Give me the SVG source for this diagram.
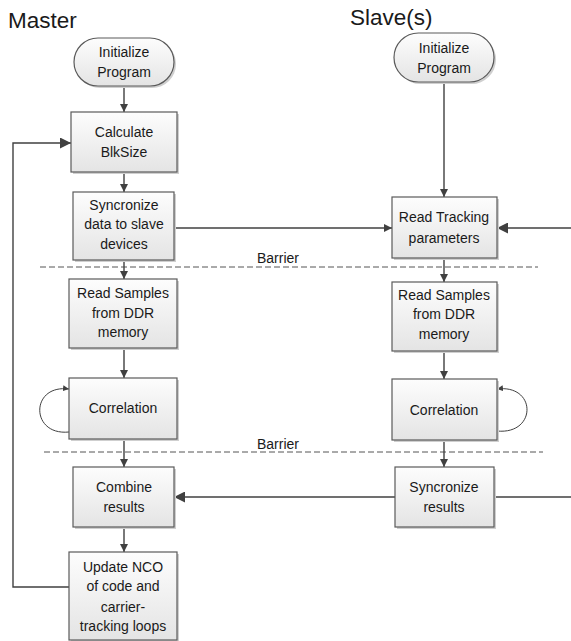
<svg xmlns="http://www.w3.org/2000/svg" width="571" height="641" viewBox="0 0 571 641">
<defs>
<linearGradient id="g" x1="0" y1="0" x2="0" y2="1">
<stop offset="0" stop-color="#fdfdfd"/>
<stop offset="1" stop-color="#e4e4e4"/>
</linearGradient>
<marker id="ah" viewBox="0 0 10 10" refX="10" refY="5" markerWidth="8" markerHeight="8" markerUnits="userSpaceOnUse" orient="auto">
<path d="M0,0 L10,5 L0,10 z" fill="#404040"/>
</marker>
<marker id="ahb" viewBox="0 0 10 10" refX="10" refY="5" markerWidth="11" markerHeight="11" markerUnits="userSpaceOnUse" orient="auto">
<path d="M0,0 L10,5 L0,10 z" fill="#404040"/>
</marker>
<marker id="ahs" viewBox="0 0 10 10" refX="10" refY="5" markerWidth="6" markerHeight="6" markerUnits="userSpaceOnUse" orient="auto">
<path d="M0,0 L10,5 L0,10 z" fill="#404040"/>
</marker>
</defs>
<style>
.box{fill:url(#g);stroke:#5a5a5a;stroke-width:1.2}
.sh{fill:#cfcfcf;stroke:none}
.t{font-family:"Liberation Sans",Arial,sans-serif;font-size:14px;fill:#1a1a1a;text-anchor:middle}
.h{font-family:"Liberation Sans",Arial,sans-serif;font-size:22.5px;fill:#1a1a1a}
.b{font-family:"Liberation Sans",Arial,sans-serif;font-size:14px;fill:#1a1a1a}
.c{fill:none;stroke:#404040;stroke-width:1.4}
.cl{fill:none;stroke:#404040;stroke-width:1}
.d{fill:none;stroke:#555;stroke-width:1;stroke-dasharray:6,3}
</style>
<rect width="571" height="641" fill="#fff"/>
<text class="h" x="8" y="28">Master</text>
<text class="h" x="350" y="25" font-size="21.5">Slave(s)</text>

<g id="barriers">
<line class="d" x1="40" y1="267" x2="538" y2="267"/>
<text class="b" x="257" y="263">Barrier</text>
<line class="d" x1="44" y1="452" x2="543" y2="452"/>
<text class="b" x="257" y="449">Barrier</text>
</g>

<g id="connectors">
<line class="c" x1="124" y1="86" x2="124" y2="112" marker-end="url(#ah)"/>
<line class="c" x1="124" y1="172" x2="124" y2="192" marker-end="url(#ah)"/>
<line class="c" x1="174" y1="228" x2="392" y2="228" marker-end="url(#ah)"/>
<line class="c" x1="124" y1="260" x2="124" y2="279" marker-end="url(#ah)"/>
<line class="c" x1="124" y1="348" x2="124" y2="378" marker-end="url(#ah)"/>
<line class="c" x1="124" y1="439" x2="124" y2="467" marker-end="url(#ah)"/>
<line class="c" x1="124" y1="527" x2="124" y2="552" marker-end="url(#ah)"/>
<polyline class="c" points="69,587 13,587 13,143 71,143" marker-end="url(#ahb)"/>
<path class="cl" d="M69,432 C30,436 30,384 69,389" marker-end="url(#ahs)"/>
<line class="c" x1="444" y1="82" x2="444" y2="197" marker-end="url(#ah)"/>
<line class="c" x1="571" y1="228" x2="497" y2="228" marker-end="url(#ahb)"/>
<line class="c" x1="444" y1="258" x2="444" y2="282" marker-end="url(#ah)"/>
<line class="c" x1="444" y1="351" x2="444" y2="379" marker-end="url(#ah)"/>
<path class="cl" d="M497,431 C537,435 537,384 497,389" marker-end="url(#ahs)"/>
<line class="c" x1="444" y1="440" x2="444" y2="467" marker-end="url(#ah)"/>
<line class="c" x1="571" y1="497" x2="494" y2="497"/>
<line class="c" x1="395" y1="497" x2="174" y2="497" marker-end="url(#ahb)"/>
</g>

<g id="m-init">
<rect class="sh" x="76" y="40" width="100" height="48" rx="24"/>
<rect class="box" x="74" y="38" width="100" height="48" rx="24"/>
<text class="t" x="124" y="57">Initialize</text>
<text class="t" x="124" y="77">Program</text>
</g>
<g id="m-calc">
<rect class="sh" x="73" y="114" width="106" height="60"/>
<rect class="box" x="71" y="112" width="106" height="60"/>
<text class="t" x="124" y="137">Calculate</text>
<text class="t" x="124" y="157">BlkSize</text>
</g>
<g id="m-sync">
<rect class="sh" x="75" y="194" width="101" height="68"/>
<rect class="box" x="73" y="192" width="101" height="68"/>
<text class="t" x="124" y="210">Syncronize</text>
<text class="t" x="124" y="229">data to slave</text>
<text class="t" x="124" y="249">devices</text>
</g>
<g id="m-read">
<rect class="sh" x="71" y="281" width="108" height="69"/>
<rect class="box" x="69" y="279" width="108" height="69"/>
<text class="t" x="123" y="298">Read Samples</text>
<text class="t" x="123" y="318">from DDR</text>
<text class="t" x="123" y="337">memory</text>
</g>
<g id="m-corr">
<rect class="sh" x="71" y="380" width="108" height="61"/>
<rect class="box" x="69" y="378" width="108" height="61"/>
<text class="t" x="123" y="413">Correlation</text>
</g>
<g id="m-comb">
<rect class="sh" x="75" y="469" width="101" height="60"/>
<rect class="box" x="73" y="467" width="101" height="60"/>
<text class="t" x="124" y="492">Combine</text>
<text class="t" x="124" y="512">results</text>
</g>
<g id="m-update">
<rect class="sh" x="71" y="554" width="108" height="90"/>
<rect class="box" x="69" y="552" width="108" height="88"/>
<text class="t" x="123" y="572">Update NCO</text>
<text class="t" x="123" y="591">of code and</text>
<text class="t" x="123" y="612">carrier-</text>
<text class="t" x="123" y="631">tracking loops</text>
</g>

<g id="s-init">
<rect class="sh" x="396" y="35" width="100" height="49" rx="24.5"/>
<rect class="box" x="394" y="33" width="100" height="49" rx="24.5"/>
<text class="t" x="444" y="53">Initialize</text>
<text class="t" x="444" y="73">Program</text>
</g>
<g id="s-track">
<rect class="sh" x="394" y="199" width="105" height="61"/>
<rect class="box" x="392" y="197" width="105" height="61"/>
<text class="t" x="444" y="222">Read Tracking</text>
<text class="t" x="444" y="243">parameters</text>
</g>
<g id="s-read">
<rect class="sh" x="394" y="284" width="105" height="69"/>
<rect class="box" x="392" y="282" width="105" height="69"/>
<text class="t" x="444" y="300">Read Samples</text>
<text class="t" x="444" y="319">from DDR</text>
<text class="t" x="444" y="339">memory</text>
</g>
<g id="s-corr">
<rect class="sh" x="394" y="381" width="105" height="61"/>
<rect class="box" x="392" y="379" width="105" height="61"/>
<text class="t" x="444" y="415">Correlation</text>
</g>
<g id="s-sync">
<rect class="sh" x="397" y="469" width="99" height="60"/>
<rect class="box" x="395" y="467" width="99" height="60"/>
<text class="t" x="444" y="492">Syncronize</text>
<text class="t" x="444" y="512">results</text>
</g>
</svg>
